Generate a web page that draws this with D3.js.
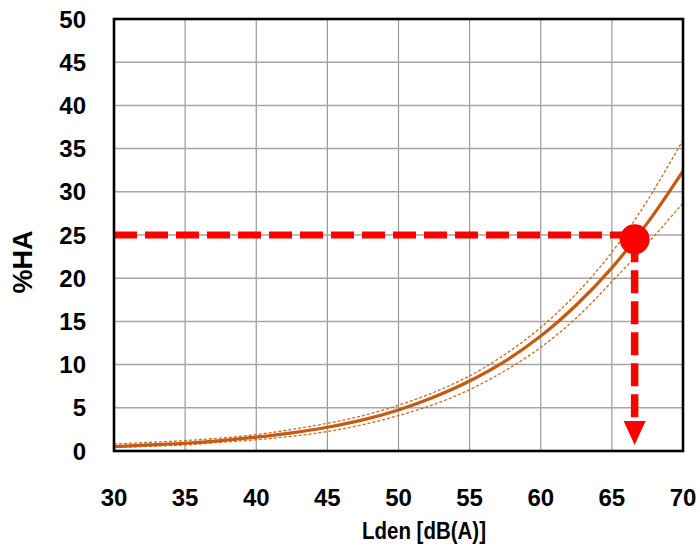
<!DOCTYPE html>
<html>
<head>
<meta charset="utf-8">
<script src="https://cdn.jsdelivr.net/npm/d3@7"></script>
<style>
  body { margin: 0; background: #fff; }
  svg { display: block; }
  .tick-label { font-family: "Liberation Sans", Arial, sans-serif; font-weight: bold; font-size: 24px; fill: #000; }
  .axis-title { font-family: "Liberation Sans", Arial, sans-serif; font-weight: bold; fill: #000; }
</style>
</head>
<body>
<svg id="chart"></svg>
<script>
// data
const lden = [30, 32.5, 35, 37.5, 40, 42.5, 45, 47.5, 50, 52.5, 55, 57.5, 60, 62.5, 65, 67.5, 70];
const haMid = [0.5, 0.7, 0.9, 1.2, 1.6, 2.1, 2.75, 3.6, 4.75, 6.25, 8.1, 10.4, 13.3, 16.9, 21.2, 26.4, 32.4];
const haUpper = [0.8, 1.0, 1.2, 1.5, 1.9, 2.5, 3.2, 4.1, 5.3, 6.8, 8.7, 11.2, 14.3, 18.2, 23.0, 29.0, 36.0];
const haLower = [0.4, 0.55, 0.7, 1.0, 1.3, 1.7, 2.25, 3.05, 4.1, 5.4, 7.1, 9.3, 12.0, 15.4, 19.6, 24.0, 28.7];
const xTicks = [30, 35, 40, 45, 50, 55, 60, 65, 70];
const yTicks = [0, 5, 10, 15, 20, 25, 30, 35, 40, 45, 50];
const marker = { lden: 66.6, ha: 24.5, target: 25 };

const W = 700, H = 557;
const margin = { top: 19, right: 17, bottom: 106, left: 114 };
const width = W - margin.left - margin.right,
      height = H - margin.top - margin.bottom;

const svg = d3.select("#chart").attr("width", W).attr("height", H);
const g = svg.append("g").attr("transform", `translate(${margin.left},${margin.top})`);

const x = d3.scaleLinear().domain([30, 70]).range([0, width]);
const y = d3.scaleLinear().domain([0, 50]).range([height, 0]);

// grid
g.append("g").selectAll("line")
  .data(xTicks.slice(1, -1))
  .join("line")
  .attr("x1", d => x(d)).attr("x2", d => x(d))
  .attr("y1", 0).attr("y2", height)
  .attr("stroke", "#999").attr("stroke-width", 1.2);

g.append("g").selectAll("line")
  .data(yTicks.slice(1, -1))
  .join("line")
  .attr("x1", 0).attr("x2", width)
  .attr("y1", d => y(d)).attr("y2", d => y(d))
  .attr("stroke", "#a6a6a6").attr("stroke-width", 1.5);

// tick labels
g.append("g").selectAll("text")
  .data(xTicks)
  .join("text")
  .attr("class", "tick-label")
  .attr("x", d => x(d))
  .attr("y", height + 55)
  .attr("text-anchor", "middle")
  .text(d => d);

g.append("g").selectAll("text")
  .data(yTicks)
  .join("text")
  .attr("class", "tick-label")
  .attr("x", -28)
  .attr("y", d => y(d) + 8.5)
  .attr("text-anchor", "end")
  .text(d => d);

// curves
const pts = arr => lden.map((v, i) => [v, arr[i]]);
const line = d3.line()
  .x(d => x(d[0]))
  .y(d => y(d[1]))
  .curve(d3.curveCatmullRom.alpha(0.5));

g.append("clipPath").attr("id", "plot-clip")
  .append("rect").attr("width", width).attr("height", height);

const curves = g.append("g").attr("clip-path", "url(#plot-clip)");

[haUpper, haLower].forEach(arr => {
  curves.append("path")
    .attr("d", line(pts(arr)))
    .attr("fill", "none")
    .attr("stroke", "#d2691e")
    .attr("stroke-width", 1.3)
    .attr("stroke-dasharray", "3,2");
});

curves.append("path")
  .attr("d", line(pts(haMid)))
  .attr("fill", "none")
  .attr("stroke", "#c55a11")
  .attr("stroke-width", 3.2);

// reading guide
const red = "#ff0000";
g.append("line")
  .attr("x1", x(30)).attr("x2", x(marker.lden))
  .attr("y1", y(marker.target)).attr("y2", y(marker.target))
  .attr("stroke", red).attr("stroke-width", 7)
  .attr("stroke-dasharray", "23,8");

const arrowTip = y(0) - 6;
g.append("line")
  .attr("x1", x(marker.lden)).attr("x2", x(marker.lden))
  .attr("y1", y(marker.ha)).attr("y2", arrowTip - 22)
  .attr("stroke", red).attr("stroke-width", 7.5)
  .attr("stroke-dasharray", "23,8");

g.append("path")
  .attr("d", `M${x(marker.lden) - 11},${arrowTip - 24} L${x(marker.lden) + 11},${arrowTip - 24} L${x(marker.lden)},${arrowTip} Z`)
  .attr("fill", red);

g.append("circle")
  .attr("cx", x(marker.lden))
  .attr("cy", y(marker.ha))
  .attr("r", 15)
  .attr("fill", red);

// frame
g.append("rect")
  .attr("width", width).attr("height", height)
  .attr("fill", "none")
  .attr("stroke", "#000")
  .attr("stroke-width", 2.6);

// axis titles
svg.append("text")
  .attr("class", "axis-title")
  .attr("x", 424)
  .attr("y", 539)
  .attr("text-anchor", "middle")
  .attr("font-size", 24)
  .attr("textLength", 124)
  .attr("lengthAdjust", "spacingAndGlyphs")
  .text("Lden [dB(A)]");

svg.append("text")
  .attr("class", "axis-title")
  .attr("transform", "translate(32,262) rotate(-90)")
  .attr("text-anchor", "middle")
  .attr("font-size", 27)
  .text("%HA");
</script>
</body>
</html>
